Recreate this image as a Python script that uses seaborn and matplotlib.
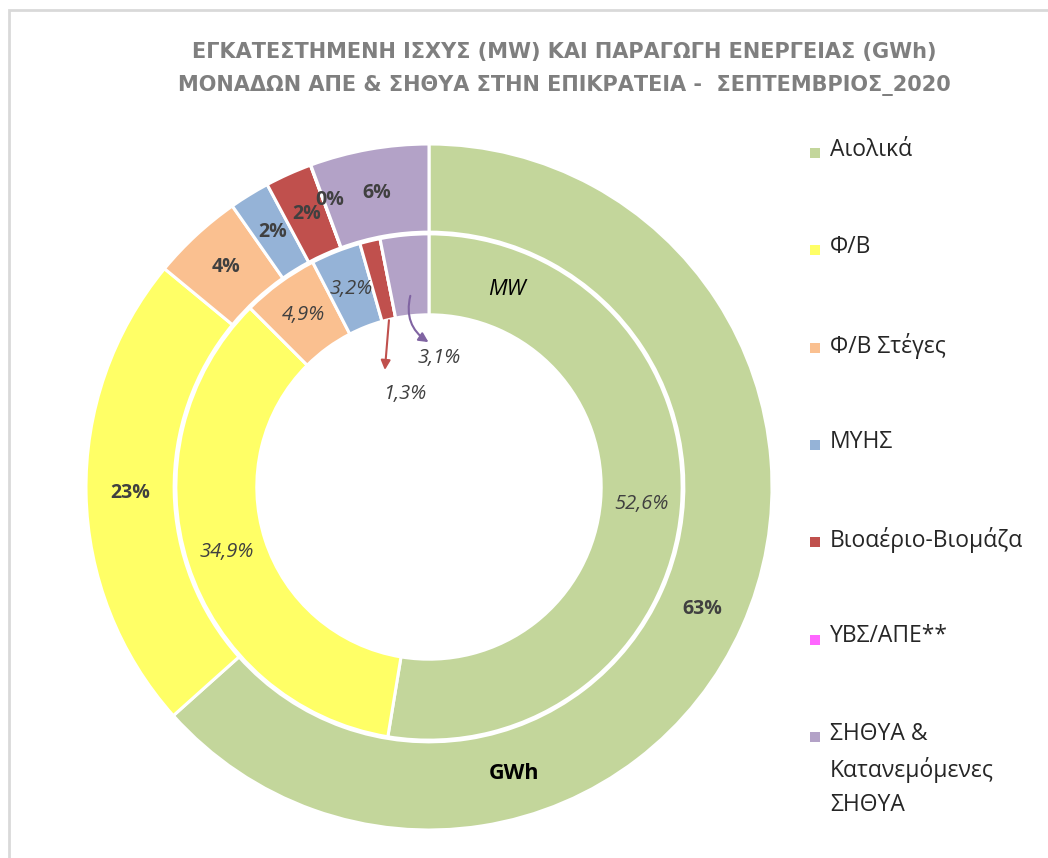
import numpy as np
import matplotlib
matplotlib.use("Agg")
import matplotlib.pyplot as plt
import seaborn as sns
from matplotlib.patches import Rectangle

# ---------------- data ----------------
categories = ["Αιολικά", "Φ/Β", "Φ/Β Στέγες", "ΜΥΗΣ", "Βιοαέριο-Βιομάζα",
              "ΥΒΣ/ΑΠΕ**", "ΣΗΘΥΑ &\nΚατανεμόμενες\nΣΗΘΥΑ"]
gwh_share = [63.4, 22.6, 4.3, 1.9, 2.2, 0.02, 5.6]      # outer ring (GWh) %
mw_share = [52.6, 34.9, 4.9, 3.2, 1.3, 0.0, 3.1]         # inner ring (MW) %
title_lines = ["ΕΓΚΑΤΕΣΤΗΜΕΝΗ ΙΣΧΥΣ (MW) ΚΑΙ ΠΑΡΑΓΩΓΗ ΕΝΕΡΓΕΙΑΣ (GWh)",
               "ΜΟΝΑΔΩΝ ΑΠΕ & ΣΗΘΥΑ ΣΤΗΝ ΕΠΙΚΡΑΤΕΙΑ -  ΣΕΠΤΕΜΒΡΙΟΣ_2020"]
series_names = ["GWh", "MW"]

colors = sns.color_palette(["#C3D69B", "#FFFF66", "#FAC090", "#95B3D7",
                            "#C0504D", "#FF66FF", "#B3A2C7"])

sns.set_theme(style="white")
plt.rcParams["font.family"] = ["Open Sans", "DejaVu Sans"]

W, H = 1048, 858
fig = plt.figure(figsize=(W / 100, H / 100), dpi=100)

# frame around chart area
fig.patches.append(Rectangle((9 / W, -0.1), 1.2, (H - 10) / H + 0.1,
                             transform=fig.transFigure, fill=False,
                             edgecolor="#D9D9D9", linewidth=2))

cx, cy, R = 429, 487, 343
ax = fig.add_axes([(cx - R) / W, (H - cy - R) / H, 2 * R / W, 2 * R / H])

r_out, w_out = 1.0, 0.257
r_in, w_in = 0.738, 0.236

ax.pie(gwh_share, radius=r_out, colors=colors, startangle=90, counterclock=False,
       wedgeprops=dict(width=w_out, edgecolor="white", linewidth=2.2))
ax.pie(mw_share, radius=r_in, colors=colors, startangle=90, counterclock=False,
       wedgeprops=dict(width=w_in, edgecolor="white", linewidth=2.2))
ax.set_xlim(-1, 1)
ax.set_ylim(-1, 1)
ax.set_aspect("equal")
ax.axis("off")


def polar(frac_cw, r):
    """fraction of full turn measured clockwise from 12 o'clock -> xy"""
    ang = np.deg2rad(90 - 360 * frac_cw)
    return r * np.cos(ang), r * np.sin(ang)


def mids(vals):
    v = np.array(vals, dtype=float)
    c = np.cumsum(v) - v / 2
    return c / v.sum()


lab_col = "#404040"
r_out_mid = r_out - w_out / 2
r_in_mid = r_in - w_in / 2

# outer ring labels (bold, rounded)
outer_nudge = {5: (0.01, 0.02)}
for i, (v, m) in enumerate(zip(gwh_share, mids(gwh_share))):
    x, y = polar(m, r_out_mid)
    dx, dy = outer_nudge.get(i, (0, 0))
    ax.text(x + dx, y + dy, f"{v:.0f}%", ha="center", va="center", fontsize=14,
            fontweight="bold", color=lab_col, zorder=5 + i)

# inner ring labels (italic)
inner_mid = mids(mw_share)
i_bio, i_chp = 4, 6
for i, (v, m) in enumerate(zip(mw_share, inner_mid)):
    if v == 0 or i in (i_bio, i_chp):
        continue
    x, y = polar(m, r_in_mid)
    ax.text(x, y, f"{v:.1f}%".replace(".", ","), ha="center", va="center",
            fontsize=14.5, style="italic", color=lab_col)

# small-slice callouts with arrows
sx, sy = polar(inner_mid[i_bio], 0.50)
ax.annotate("", xy=(sx - 0.012, sy - 0.145), xytext=(sx, sy),
            arrowprops=dict(arrowstyle="-|>", color="#C0504D", lw=1.5,
                            mutation_scale=14, shrinkA=0, shrinkB=0))
ax.text(sx + 0.045, sy - 0.215, f"{mw_share[i_bio]:.1f}%".replace(".", ","),
        ha="center", va="center", fontsize=14.5, style="italic", color=lab_col)

px, py = polar(inner_mid[i_chp], 0.56)
ax.annotate("", xy=(px + 0.053, py - 0.135), xytext=(px, py),
            arrowprops=dict(arrowstyle="-|>", color="#8064A2", lw=1.5,
                            mutation_scale=14, shrinkA=0, shrinkB=0,
                            connectionstyle="arc3,rad=0.35"))
ax.text(px + 0.085, py - 0.182, f"{mw_share[i_chp]:.1f}%".replace(".", ","),
        ha="center", va="center", fontsize=14.5, style="italic", color=lab_col)

# series name labels
x, y = polar(21.5 / 360, r_in_mid)
ax.text(x, y, series_names[1], ha="center", va="center", fontsize=16,
        style="italic", color="black")
x, y = polar(163.5 / 360, r_out_mid)
ax.text(x, y, series_names[0], ha="center", va="center", fontsize=15.5,
        fontweight="bold", color="black")

# title
for k, line in enumerate(title_lines):
    fig.text(564 / W, 1 - (52 + 34 * k) / H, line, ha="center", va="center",
             fontsize=15, fontweight="bold", color="#7F7F7F",
             family="DejaVu Sans")

# legend (drawn as figure text + square markers)
leg_x_marker, leg_x_text, leg_y0, leg_dy = 815, 830, 153, 97.3
for k, (lab, c) in enumerate(zip(categories, colors)):
    yk = leg_y0 + k * leg_dy
    fig.patches.append(Rectangle(((leg_x_marker - 5) / W, 1 - (yk + 5) / H),
                                 10 / W, 10 / H, transform=fig.transFigure,
                                 facecolor=c, edgecolor="none"))
    fig.text(leg_x_text / W, 1 - (yk - 15) / H, lab, ha="left", va="top",
             fontsize=16.5, color="#262626", linespacing=1.55)

fig.savefig("out.png", dpi=100)
